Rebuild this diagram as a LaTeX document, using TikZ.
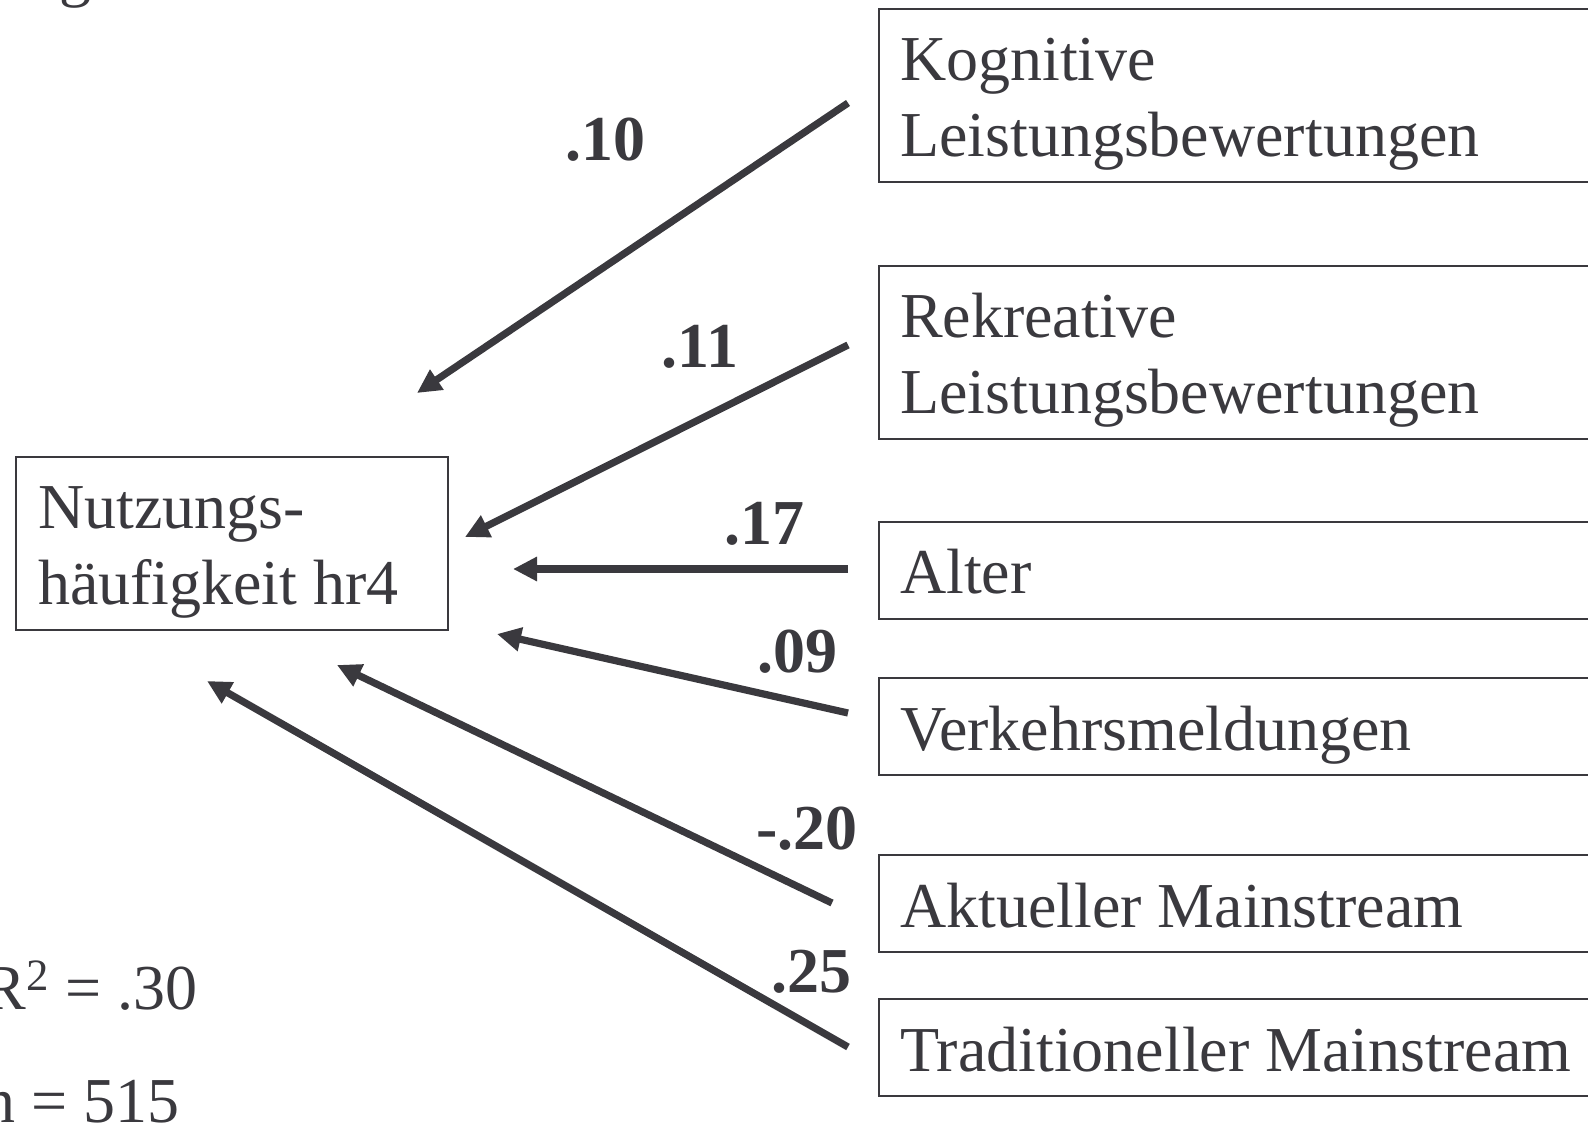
\documentclass[tikz,border=0pt]{standalone}
\usepackage{fontspec}
\setmainfont{Liberation Serif}
\usetikzlibrary{arrows.meta}

\newcommand{\boxLineWidth}{1pt}
\newcommand{\arrowLineWidth}{3.6pt}
\newcommand{\bigFont}{\fontsize{32}{38}\selectfont}
\newcommand{\boxTop}{\rule{0pt}{36pt}}
\newcommand{\boxBot}{\rule[-12.5pt]{0pt}{12.5pt}}
\newcommand{\rightBoxX}{879}
\newcommand{\tailX}{848}
\definecolor{diagramGray}{RGB}{58,57,62}

\tikzset{
    rightBox/.style={draw=diagramGray, line width=\boxLineWidth, anchor=north west, text width=390pt, align=left, inner xsep=10.5pt, inner ysep=0pt, outer sep=0pt, execute at begin node={\spaceskip=0.25em\relax}},
    mainBox/.style={draw=diagramGray, line width=\boxLineWidth, anchor=north west, text width=194pt, align=left, inner xsep=11pt, inner ysep=0pt, outer sep=0pt, execute at begin node={\spaceskip=0.25em\relax}},
    pathArrow/.style={draw=diagramGray, line width=\arrowLineWidth, -{Triangle[length=12pt,width=11.5pt]}},
    coefLabel/.style={anchor=base, font=\bigFont\bfseries, inner sep=0pt},
    plainText/.style={anchor=base east, inner sep=0pt}
}

\begin{document}
\begin{tikzpicture}[x=0.5pt, y=-0.5pt, font=\bigFont, text=diagramGray]
        \useasboundingbox (0,0) rectangle (1588,1127);

        % Title (cut off)
        \node[anchor=base west, inner sep=0pt] (titleCut) at (59,-5) {g};

        % Dependent variable
        \node[mainBox] (nutzung) at (16,457) {\boxTop Nutzungs-\\häufigkeit hr4\boxBot};

        % Predictors
        \node[rightBox] (kognitiv) at (\rightBoxX,9) {\boxTop Kognitive\\Leistungsbewertungen\boxBot};
        \node[rightBox] (rekreativ) at (\rightBoxX,266) {\boxTop Rekreative\\Leistungsbewertungen\boxBot};
        \node[rightBox] (alter) at (\rightBoxX,522) {\boxTop Alter\boxBot};
        \node[rightBox] (verkehr) at (\rightBoxX,678) {\boxTop Verkehrsmeldungen\boxBot};
        \node[rightBox] (aktuell) at (\rightBoxX,855) {\boxTop Aktueller Mainstream\boxBot};
        \node[rightBox] (tradition) at (\rightBoxX,999) {\boxTop Traditioneller Mainstream\boxBot};

        % Arrow ends
        \coordinate (kognitivTail) at (\tailX,103);
        \coordinate (kognitivHead) at (417,393);
        \coordinate (rekreativTail) at (\tailX,345);
        \coordinate (rekreativHead) at (465,537);
        \coordinate (alterTail) at (\tailX,569);
        \coordinate (alterHead) at (513,569);
        \coordinate (verkehrTail) at (\tailX,713);
        \coordinate (verkehrHead) at (497,634);
        \coordinate (aktuellTail) at (832,903);
        \coordinate (aktuellHead) at (337,665);
        \coordinate (traditionTail) at (\tailX,1047);
        \coordinate (traditionHead) at (207,681);

        % Draw paths
        \draw[pathArrow] (kognitivTail) -- (kognitivHead);
        \draw[pathArrow] (rekreativTail) -- (rekreativHead);
        \draw[pathArrow] (alterTail) -- (alterHead);
        \draw[pathArrow] (verkehrTail) -- (verkehrHead);
        \draw[pathArrow] (aktuellTail) -- (aktuellHead);
        \draw[pathArrow] (traditionTail) -- (traditionHead);

        % Coefficients
        \node[coefLabel] (coefKognitiv) at (605,161) {.10};
        \node[coefLabel] (coefRekreativ) at (700,368) {.11};
        \node[coefLabel] (coefAlter) at (764,545) {.17};
        \node[coefLabel] (coefVerkehr) at (797,672) {.09};
        \node[coefLabel] (coefAktuell) at (807,849) {-.20};
        \node[coefLabel] (coefTradition) at (811,992) {.25};

        % Fit
        \node[plainText] (rSquare) at (198,1009) {R\textsuperscript{2} = .30};
        \node[plainText] (sampleSize) at (180,1122) {n = 515};
    \end{tikzpicture}
\end{document}
